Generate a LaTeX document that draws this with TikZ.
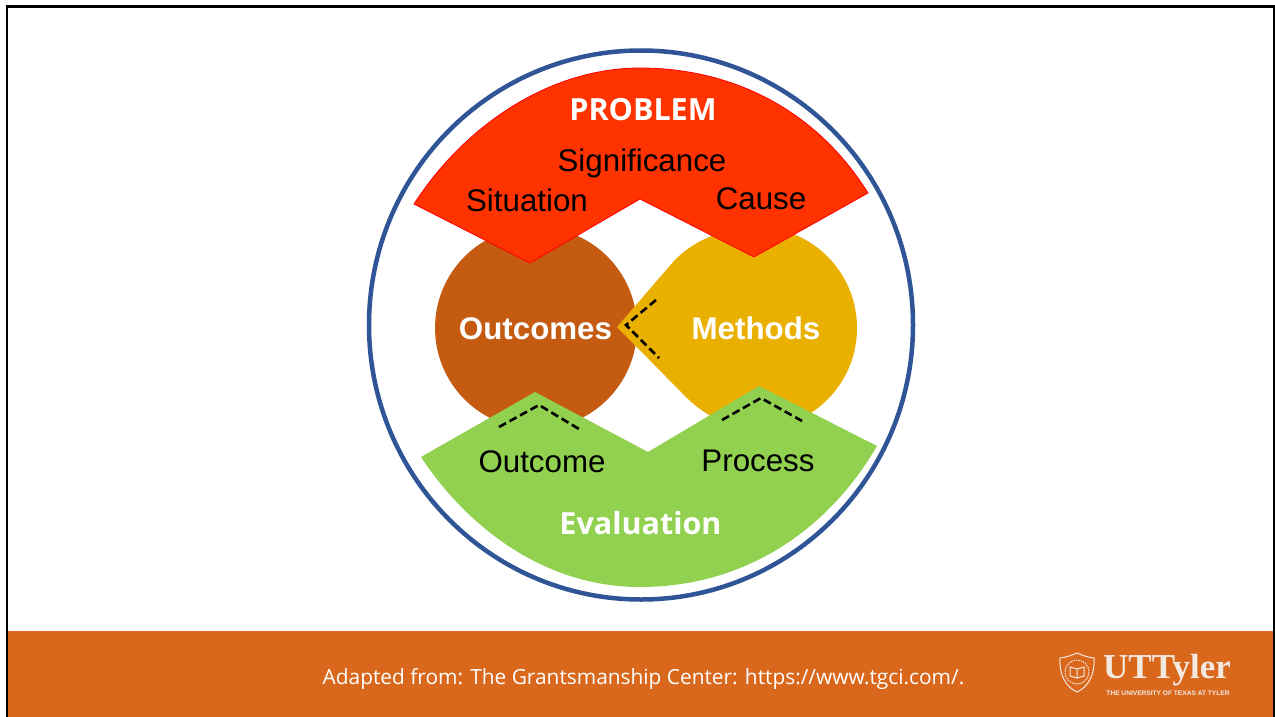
\documentclass[tikz,border=0pt]{standalone}
\usepackage{fontspec}
\usetikzlibrary{shapes.geometric}
\setmainfont{Liberation Sans}
\newfontfamily\opens{Open Sans}
\newfontfamily\serf{Liberation Serif}
\definecolor{ringblue}{HTML}{2F5597}
\definecolor{probred}{HTML}{FF3300}
\definecolor{brownc}{HTML}{C55A11}
\definecolor{yelc}{HTML}{E9B000}
\definecolor{greenc}{HTML}{92D050}
\definecolor{bandc}{HTML}{D9681D}
\definecolor{logoc}{HTML}{F3E9E0}
\tikzset{
  blk/.style={font=\fontsize{31.3}{31.3}\selectfont,text=black,inner sep=0pt},
  wht/.style={font=\bfseries\fontsize{31.3}{31.3}\selectfont,text=white,inner sep=0pt},
  whtb/.style={font=\opens\bfseries\fontsize{30.5}{30.5}\selectfont,text=white,inner sep=0pt},
  dashln/.style={draw=black,line width=2.6pt,dash pattern=on 8pt off 4pt}
}
\begin{document}
\begin{tikzpicture}[x=1pt,y=-1pt]
\useasboundingbox (0,0) rectangle (1275,717);
\fill[white] (0,0) rectangle (1275,717);
\fill[bandc] (8,631) rectangle (1273,717);
\draw[black,line width=2.5pt] (7.2,717) -- (7.2,6.5) -- (1274,6.5) -- (1274,717);
% brown circle
\fill[brownc] (536,328) circle [radius=101];
% yellow teardrop
\fill[yelc] (617,327) -- (673,262) .. controls (690,243) and (722,227) .. (756,227)
  .. controls (812,227) and (857,272) .. (857,328) .. controls (857,384) and (812,429) .. (756,429)
  .. controls (722,429) and (695,407) .. (682,393) -- cycle;
% red
\draw[red,line width=0.8pt,fill=probred] (414,204) .. controls (465,125) and (550,68) .. (640,68)
  .. controls (730,68) and (815,108) .. (868,193)
  -- (754,257) -- (640,199) -- (530,263) -- cycle;
% green
\fill[greenc] (421,457) -- (535,392) -- (648,452) -- (759,386) -- (877,446)
  .. controls (825,535) and (740,587) .. (640,587)
  .. controls (545,587) and (468,528) .. (421,457) -- cycle;
% ring
\node[draw=ringblue,line width=4.5pt,ellipse,minimum width=544pt,minimum height=549pt,inner sep=0pt] (ring) at (641,325) {};
% dashes
\coordinate (d1a) at (656,300); \coordinate (d1b) at (626,325); \coordinate (d1c) at (659,358);
\coordinate (d2a) at (499,427); \coordinate (d2b) at (539,405); \coordinate (d2c) at (579,429);
\coordinate (d3a) at (722,420); \coordinate (d3b) at (761,398); \coordinate (d3c) at (802,421);
\draw[dashln] (d1a) -- (d1b) -- (d1c);
\draw[dashln] (d2a) -- (d2b) -- (d2c);
\draw[dashln] (d3a) -- (d3b) -- (d3c);
% text
\node[whtb] (problem) at (643,110) {PROBLEM};
\node[blk] (sig) at (642,163) {Significance};
\node[blk] (sit) at (527,200) {Situation};
\node[blk] (cause) at (761,199) {Cause};
\node[wht] (outc) at (535.5,329) {Outcomes};
\node[wht] (meth) at (756,328) {Methods};
\node[blk] (outl) at (542,462) {Outcome};
\node[blk] (proc) at (758,461) {Process};
\node[whtb] (eval) at (640.5,523) {Evaluation};
\node[font=\opens\fontsize{20.87}{21}\selectfont,text=white,inner sep=0pt] (adapt) at (643.5,679) {Adapted from: The Grantsmanship Center: https://www.tgci.com/.};
% logo
\node[font=\serf\bfseries\fontsize{35}{35}\selectfont,text=logoc,inner sep=0pt] (ut) at (1167,670) {UTTyler};
\node[font=\bfseries\fontsize{6.6}{6.6}\selectfont,text=logoc,inner sep=0pt] (univ) at (1168,693) {THE UNIVERSITY OF TEXAS AT TYLER};
\draw[logoc,line width=1pt] (1060,658) .. controls (1068,657) and (1072,655) .. (1077,653) .. controls (1082,655) and (1086,657) .. (1094,658)
  .. controls (1095,675) and (1088,687) .. (1077,692) .. controls (1066,687) and (1059,675) .. (1060,658) -- cycle;
\draw[logoc,line width=1pt,dash pattern=on 1.5pt off 1pt] (1077,672) circle [radius=12];
\draw[logoc,line width=1pt] (1070,667) -- (1077,669) -- (1084,667) -- (1084,676) -- (1077,678) -- (1070,676) -- cycle (1077,669) -- (1077,678);
\end{tikzpicture}
\end{document}
